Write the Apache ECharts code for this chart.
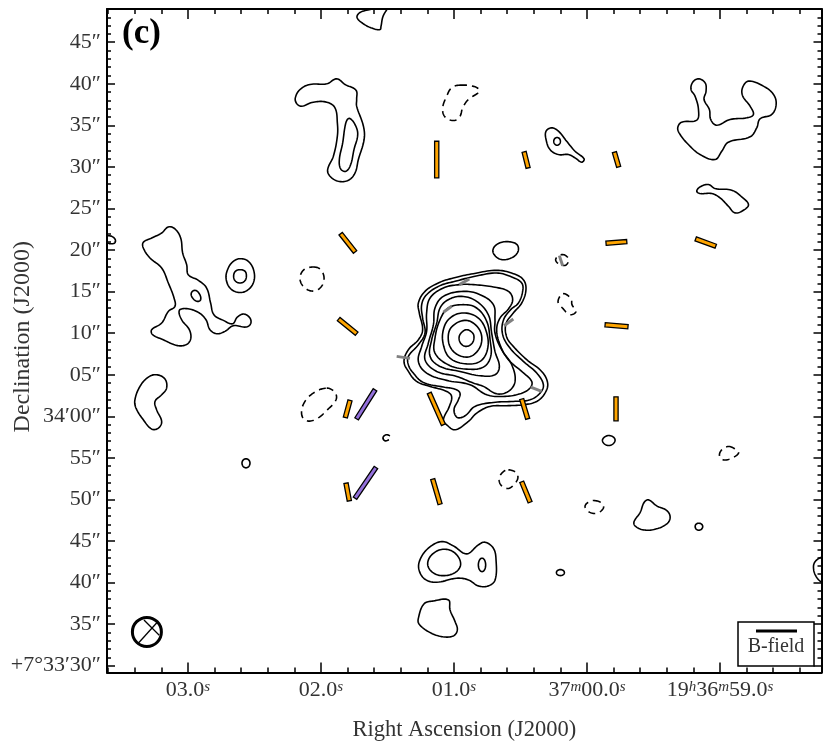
<!DOCTYPE html>
<html>
<head>
<meta charset="utf-8">
<title>Polarization map (c)</title>
<style>
  html, body { margin: 0; padding: 0; background: #fff; }
  #chart { width: 831px; height: 751px; }
</style>
<script src="https://cdn.jsdelivr.net/npm/echarts@6/dist/echarts.min.js"></script>
</head>
<body>
<div id="chart"></div>
<script>
// x = RA seconds relative to 19h37m00s, y = Dec arcsec relative to +7d33m00s
const raMajor = [3, 2, 1, 0, -1]
const raMinor = [3.6, 3.4, 3.2, 3, 2.8, 2.6, 2.4, 2.2, 2, 1.8, 1.6, 1.4, 1.2, 1, 0.8, 0.6, 0.4, 0.2, 0, -0.2, -0.4, -0.6, -0.8, -1, -1.2, -1.4, -1.6]
const raLabels = ['{n|03.0}{s|s}', '{n|02.0}{s|s}', '{n|01.0}{s|s}', '{n|37}{s|m}{n|00.0}{s|s}', '{n|19}{s|h}{n|36}{s|m}{n|59.0}{s|s}']
const decMajor = [30, 35, 40, 45, 50, 55, 60, 65, 70, 75, 80, 85, 90, 95, 100, 105]
const decLabels = ['+7°33′30″', '35″', '40″', '45″', '50″', '55″', '34′00″', '05″', '10″', '15″', '20″', '25″', '30″', '35″', '40″', '45″']
const decMinor = []
for (let i = 30; i <= 109; i++) decMinor.push(i)

// main source, outer to inner
const coreA = [[0.679, 77.56], [0.554, 77.16], [0.479, 76.44], [0.459, 75.24], [0.491, 73.63], [0.554, 72.43], [0.609, 71.14], [0.604, 69.54], [0.554, 68.41], [0.453, 66.81], [0.341, 65.4], [0.296, 64], [0.316, 62.79], [0.378, 61.79], [0.479, 61.39], [0.604, 61.27], [0.729, 61.19], [0.829, 60.39], [0.892, 59.38], [0.992, 58.38], [1.055, 58.98], [1.08, 59.58], [1.035, 61.19], [1.018, 62.39], [1.055, 62.99], [1.18, 63.6], [1.281, 64.2], [1.343, 65.4], [1.376, 66.61], [1.343, 68.01], [1.268, 69.21], [1.236, 70.42], [1.261, 72.43], [1.268, 73.63], [1.218, 75.03], [1.118, 76.04], [1.005, 76.64], [0.855, 77.16]]
const coreB = [[0.679, 77.24], [0.566, 76.76], [0.491, 76.04], [0.484, 75.03], [0.516, 73.63], [0.574, 72.83], [0.629, 71.54], [0.634, 69.82], [0.579, 68.21], [0.479, 66.61], [0.378, 65.2], [0.328, 63.8], [0.353, 62.79], [0.428, 61.99], [0.554, 61.79], [0.704, 61.67], [0.842, 61.19], [0.917, 60.06], [0.975, 59.86], [1, 60.79], [0.967, 61.99], [0.955, 62.79], [0.992, 63.27], [1.08, 63.52], [1.231, 64.08], [1.306, 65.2], [1.343, 66.2], [1.343, 67.21], [1.268, 68.61], [1.218, 70.02], [1.236, 71.82], [1.243, 73.43], [1.206, 74.63], [1.105, 75.72], [0.992, 76.24], [0.842, 76.84]]
const coreC = [[0.96, 75.84], [0.855, 75.84], [0.704, 75.56], [0.591, 75.03], [0.559, 74.03], [0.591, 72.91], [0.654, 71.82], [0.679, 70.42], [0.654, 68.61], [0.591, 66.81], [0.491, 65.4], [0.416, 64.2], [0.428, 63.4], [0.504, 62.71], [0.629, 62.39], [0.754, 62.59], [0.88, 63.8], [1.055, 64.32], [1.206, 65.2], [1.268, 66.61], [1.243, 68.41], [1.206, 70.22], [1.206, 72.43], [1.18, 74.23], [1.08, 75.44]]
const coreD = [[0.93, 75.03], [0.804, 74.63], [0.704, 73.43], [0.692, 71.62], [0.692, 70.02], [0.642, 68.01], [0.566, 66.2], [0.541, 64.2], [0.591, 63], [0.679, 62.71], [0.779, 63.6], [0.855, 64], [0.98, 64.8], [1.13, 65.4], [1.218, 66.81], [1.193, 68.81], [1.155, 71.02], [1.143, 73.03], [1.08, 74.43]]
const coreE = [[0.942, 74.43], [0.83, 73.83], [0.742, 72.22], [0.717, 70.02], [0.692, 67.81], [0.659, 66], [0.692, 65], [0.804, 64.88], [0.955, 65.4], [1.105, 66], [1.18, 67.21], [1.168, 69.21], [1.13, 71.22], [1.105, 73.03], [1.043, 74.03]]
const coreF = [[0.93, 73.43], [0.83, 73.03], [0.754, 71.42], [0.729, 69.21], [0.724, 67.21], [0.779, 65.92], [0.905, 65.68], [1.043, 66.2], [1.143, 67.61], [1.143, 69.42], [1.105, 71.62], [1.043, 73.03]]
const coreG = [[0.93, 72.43], [0.817, 71.82], [0.754, 70.02], [0.749, 68.01], [0.804, 66.61], [0.917, 66.33], [1.03, 67], [1.08, 68.61], [1.08, 70.42], [1.03, 71.82]]
const coreH = [[0.91, 71.54], [0.817, 70.62], [0.792, 69.01], [0.842, 67.53], [0.917, 67.13], [1.005, 67.81], [1.043, 69.21], [1.018, 70.74]]
const coreI = [[0.905, 70.42], [0.86, 70.02], [0.85, 69.42], [0.867, 68.73], [0.91, 68.41], [0.947, 68.73], [0.962, 69.42], [0.947, 70.02]]

// other positive contours
const ovalNorth = [[0.707, 80.05], [0.669, 80.77], [0.594, 81.01], [0.526, 80.65], [0.519, 79.81], [0.564, 79.09], [0.639, 78.85], [0.692, 79.33]]
const hookOuter = [[1.882, 100.6], [1.819, 99.92], [1.737, 99.23], [1.732, 98.11], [1.732, 97.31], [1.681, 94.9], [1.676, 93.3], [1.719, 90.89], [1.744, 89.28], [1.794, 88.4], [1.87, 88.28], [1.932, 88.88], [1.95, 89.68], [1.907, 91.29], [1.877, 93.7], [1.877, 95.3], [1.895, 97.11], [1.957, 97.79], [2.058, 97.79], [2.145, 97.31], [2.183, 97.63], [2.193, 98.31], [2.158, 99.31], [2.083, 99.92], [1.957, 100]]
const hookInner = [[1.782, 95.82], [1.744, 95.1], [1.724, 93.9], [1.752, 92.09], [1.777, 90.29], [1.812, 89.48], [1.852, 89.76], [1.862, 90.89], [1.837, 92.89], [1.819, 94.9], [1.802, 95.7]]
const westBlob = [[3.148, 82.78], [3.098, 82.54], [3.055, 81.45], [3.04, 79.65], [3.01, 78.24], [2.998, 77.04], [2.922, 76.36], [2.86, 75.43], [2.83, 73.63], [2.805, 72.22], [2.734, 71.54], [2.664, 71.14], [2.629, 71.94], [2.579, 72.3], [2.534, 71.82], [2.529, 71.14], [2.564, 70.74], [2.659, 70.9], [2.722, 70.22], [2.785, 69.94], [2.835, 70.42], [2.865, 71.62], [2.922, 72.5], [3.01, 72.95], [3.065, 72.74], [3.048, 71.62], [2.99, 70.42], [2.98, 69.29], [3.015, 68.61], [3.085, 68.53], [3.186, 69.21], [3.266, 69.82], [3.273, 70.42], [3.198, 71.22], [3.148, 72.62], [3.098, 73.23], [3.105, 74.23], [3.148, 76.04], [3.198, 77.84], [3.286, 79.05], [3.336, 80.25], [3.336, 80.93], [3.273, 81.45], [3.198, 82.05]]
const westBlobPeak = [[2.947, 75.15], [2.915, 74.75], [2.905, 74.03], [2.93, 73.83], [2.965, 74.23], [2.975, 74.83]]
const ringOuter = [[2.609, 78.96], [2.546, 78.64], [2.504, 77.44], [2.509, 76.04], [2.559, 75.11], [2.622, 74.91], [2.684, 75.43], [2.714, 76.64], [2.697, 77.84], [2.659, 78.64]]
const ringInner = [[2.609, 77.64], [2.571, 77.44], [2.561, 76.84], [2.574, 76.28], [2.609, 76.04], [2.644, 76.28], [2.657, 76.84], [2.644, 77.44]]
const kidney = [[3.236, 65], [3.173, 64.48], [3.161, 63.39], [3.198, 62.59], [3.248, 61.79], [3.236, 60.79], [3.198, 59.38], [3.223, 58.58], [3.273, 58.46], [3.336, 59.58], [3.391, 60.99], [3.399, 61.99], [3.361, 63.6], [3.298, 64.72]]
const teardrop = [[0.265, 94.7], [0.215, 94.3], [0.153, 93.09], [0.09, 91.89], [0.022, 90.97], [0.04, 90.57], [0.09, 91.09], [0.14, 91.49], [0.215, 91.49], [0.278, 92.09], [0.308, 93.3], [0.308, 94.3]]
const teardropPeak = [[0.225, 93.54], [0.2, 93.09], [0.225, 92.61], [0.25, 93.09]]
const eastBlob = [[-0.838, 100.6], [-0.888, 100.12], [-0.895, 99.12], [-0.88, 98.11], [-0.92, 96.91], [-0.93, 95.71], [-0.975, 95.02], [-1.076, 95.71], [-1.201, 95.91], [-1.251, 96.31], [-1.226, 97.31], [-1.171, 98.52], [-1.169, 99.52], [-1.214, 100.32], [-1.326, 99.72], [-1.402, 98.72], [-1.422, 97.51], [-1.389, 96.31], [-1.301, 95.79], [-1.276, 94.7], [-1.226, 93.62], [-1.063, 92.98], [-1.013, 91.89], [-0.963, 90.89], [-0.85, 91.49], [-0.762, 92.7], [-0.7, 93.9], [-0.682, 94.7], [-0.712, 95.39], [-0.825, 95.63], [-0.838, 96.91], [-0.812, 98.52], [-0.782, 99.32], [-0.795, 100.2]]
const eastSliver = [[-0.913, 87.88], [-0.963, 87.4], [-1.088, 87.2], [-1.163, 86.4], [-1.214, 85.47], [-1.176, 84.79], [-1.113, 84.47], [-1.063, 85.27], [-1, 86.28], [-0.938, 86.8], [-0.85, 86.8], [-0.825, 87.08], [-0.85, 87.6]]
const southOval = [[-0.163, 57.69], [-0.199, 57.49], [-0.211, 57.09], [-0.193, 56.65], [-0.163, 56.49], [-0.133, 56.65], [-0.116, 57.09], [-0.131, 57.49]]
const southEastBlob = [[-0.462, 49.95], [-0.524, 49.23], [-0.6, 48.66], [-0.625, 47.86], [-0.6, 47.06], [-0.512, 46.42], [-0.424, 46.34], [-0.361, 46.82], [-0.354, 47.34], [-0.399, 48.42], [-0.429, 49.63]]
const dotEast = [[-0.84, 47.14], [-0.87, 46.74], [-0.84, 46.3], [-0.813, 46.74]]
const peanutOuter = [[1.093, 44.93], [1.005, 44.41], [0.905, 43.45], [0.817, 44.53], [0.767, 44.85], [0.704, 44.13], [0.684, 42.73], [0.691, 40.32], [0.742, 39.6], [0.817, 39.6], [0.892, 40.32], [0.98, 40.52], [1.13, 40.04], [1.218, 40.4], [1.263, 41.52], [1.256, 42.73], [1.193, 44.13]]
const peanutLeft = [[1.075, 44.01], [0.992, 43.53], [0.95, 42.24], [0.992, 41.2], [1.093, 40.84], [1.168, 41.32], [1.198, 42.32], [1.16, 43.45]]
const peanutRight = [[0.789, 42.93], [0.762, 42.12], [0.789, 41.32], [0.817, 42.12]]
const dotSouth = [[0.2, 41.56], [0.17, 41.2], [0.2, 40.84], [0.23, 41.2]]
const southBlob = [[1.042, 37.91], [1.03, 36.71], [0.992, 35.3], [0.975, 34.3], [1.005, 33.58], [1.093, 33.5], [1.193, 34.1], [1.263, 35.02], [1.268, 35.7], [1.226, 37.43], [1.155, 37.79]]
const dotWest = [[2.564, 54.89], [2.534, 54.37], [2.564, 53.8], [2.594, 54.37]]

// contours cut by the frame
const topEdge = [[1.504, 108.95], [1.534, 108.1], [1.549, 106.9], [1.556, 106.53], [1.609, 106.65], [1.684, 107.25], [1.729, 107.98], [1.707, 108.58], [1.617, 109]]
const leftEdge = [[3.612, 81.73], [3.574, 81.65], [3.547, 81.25], [3.552, 80.85], [3.587, 80.77], [3.612, 80.93]]
const rightEdge = [[-1.758, 43.05], [-1.715, 42.52], [-1.703, 41.72], [-1.723, 40.72], [-1.76, 40.04]]
const hookDot = [[1.481, 57.66], [1.511, 57.78], [1.534, 57.42], [1.519, 57.05], [1.489, 57.18]]

// negative contours
const negNorth = [[0.955, 99.84], [0.842, 99.64], [0.809, 99.11], [0.892, 98.11], [0.935, 97.11], [0.955, 96.1], [1, 95.58], [1.068, 96.02], [1.085, 97.11], [1.055, 98.51], [1.018, 99.52]]
const negWest = [[2.058, 77.96], [2.002, 77.64], [1.977, 76.52], [2.007, 75.43], [2.07, 75.07], [2.133, 75.63], [2.158, 76.64], [2.128, 77.64]]
const negSouthWest = [[1.957, 63.39], [1.895, 62.87], [1.887, 61.99], [1.957, 60.71], [2.032, 59.7], [2.108, 59.46], [2.145, 60.18], [2.128, 61.59], [2.058, 62.79]]
const negEastA = [[0.19, 79.45], [0.148, 79.17], [0.14, 78.65], [0.165, 78.16], [0.215, 78.36], [0.235, 78.93]]
const negEastB = [[0.18, 74.75], [0.12, 74.15], [0.113, 73.43], [0.083, 72.59], [0.128, 72.23], [0.18, 72.95], [0.218, 73.79]]
const negSouthA = [[0.591, 53.56], [0.529, 53.16], [0.524, 52.36], [0.584, 51.35], [0.641, 51.63], [0.661, 52.44], [0.636, 53.24]]
const negSouthB = [[-0.053, 49.87], [-0.111, 49.55], [-0.123, 48.95], [-0.073, 48.34], [-0.01, 48.54], [0.015, 49.15], [-0.01, 49.67]]
const negSouthC = [[-1.063, 56.37], [-1.114, 56.05], [-1.139, 55.57], [-1.088, 54.97], [-1.026, 54.76], [-0.996, 55.25], [-1.013, 55.97]]

// field vectors: ra0, dec0, ra1, dec1
const orangeVectors = [
  [1.852, 81.97, 1.744, 79.77], [1.867, 71.7, 1.732, 69.94], [1.782, 61.91, 1.817, 59.86],
  [1.812, 51.96, 1.787, 49.83], [1.16, 52.44, 1.105, 49.43], [1.186, 62.8, 1.08, 58.98],
  [1.13, 93.09, 1.13, 88.68], [0.473, 91.81, 0.443, 89.88], [-0.206, 91.77, -0.238, 90.01],
  [-0.143, 80.82, -0.299, 81.02], [-0.817, 81.34, -0.968, 80.46], [-0.136, 71.02, -0.308, 70.78],
  [0.491, 62.07, 0.446, 59.7], [-0.218, 62.35, -0.218, 59.46], [0.491, 52.12, 0.428, 49.67]
]
const purpleVectors = [[1.594, 63.19, 1.732, 59.7], [1.587, 53.84, 1.744, 50.15]]
const greyVectors = [
  [1.431, 67.21, 1.331, 66.97], [0.96, 75.84, 0.885, 76.52], [1.08, 72.51, 1.018, 73.23],
  [0.624, 70.9, 0.554, 71.7], [0.423, 63.52, 0.341, 62.99], [0.208, 79.33, 0.183, 78.12]
]

const beamCentre = [[3.309, 34.06]]
const beamHatchA = [[3.374, 32.7], [3.226, 35.32]]
const beamHatchB = [[3.331, 35.5], [3.216, 33.66]]

const solidLoops = [coreA, coreB, coreC, coreD, coreE, coreF, coreG, coreH, coreI, ovalNorth, hookOuter, hookInner, westBlob, westBlobPeak, ringOuter, ringInner, kidney, teardrop, teardropPeak, eastBlob, eastSliver, southOval, southEastBlob, dotEast, peanutOuter, peanutLeft, peanutRight, dotSouth, southBlob, dotWest]
const openLines = [topEdge, leftEdge, rightEdge, hookDot]
const dashedLoops = [negNorth, negWest, negSouthWest, negEastA, negEastB, negSouthA, negSouthB, negSouthC]

const serif = '"Liberation Serif", serif'
const ink = '#333'

// rounded path through screen points, echarts' own smooth clamps control points and goes boxy
const roundThrough = (pts, closed) => {
  const n = pts.length
  const at = i => closed ? pts[(i + n) % n] : pts[Math.max(0, Math.min(n - 1, i))]
  const k = n <= 4 ? 0.55 : (n <= 6 ? 0.42 : 0.38)
  const out = []
  const segments = closed ? n : n - 1
  for (let i = 0; i < segments; i++) {
    const p0 = at(i - 1)
    const p1 = at(i)
    const p2 = at(i + 1)
    const p3 = at(i + 2)
    const d1 = Math.hypot(p2[0] - p1[0], p2[1] - p1[1])
    const d0 = Math.hypot(p1[0] - p0[0], p1[1] - p0[1]) || d1
    const d2 = Math.hypot(p3[0] - p2[0], p3[1] - p2[1]) || d1
    const c1 = [p1[0] + (p2[0] - p0[0]) * k * d1 / (d0 + d1), p1[1] + (p2[1] - p0[1]) * k * d1 / (d0 + d1)]
    const c2 = [p2[0] - (p3[0] - p1[0]) * k * d1 / (d1 + d2), p2[1] - (p3[1] - p1[1]) * k * d1 / (d1 + d2)]
    for (let s = 0; s < 10; s++) {
      const t = s / 10
      const u = 1 - t
      out.push([
        u * u * u * p1[0] + 3 * u * u * t * c1[0] + 3 * u * t * t * c2[0] + t * t * t * p2[0],
        u * u * u * p1[1] + 3 * u * u * t * c1[1] + 3 * u * t * t * c2[1] + t * t * t * p2[1]
      ])
    }
  }
  if (!closed) out.push(pts[n - 1])
  return out
}

const contourSeries = (list, closed, dash) => ({
  type: 'custom',
  data: list.map(pts => pts[0]),
  silent: true,
  clip: true,
  z: 2,
  renderItem (params, api) {
    const pts = list[params.dataIndex].map(p => api.coord(p))
    return {
      type: closed ? 'polygon' : 'polyline',
      shape: { points: roundThrough(pts, closed) },
      style: { fill: null, stroke: '#000', lineWidth: 1.6, lineDash: dash || null }
    }
  }
})

const vectorSeries = (data, fill) => ({
  type: 'custom',
  data,
  silent: true,
  z: 4,
  encode: { x: [0, 2], y: [1, 3] },
  renderItem (params, api) {
    const a = api.coord([api.value(0), api.value(1)])
    const b = api.coord([api.value(2), api.value(3)])
    const len = Math.hypot(b[0] - a[0], b[1] - a[1])
    const nx = -(b[1] - a[1]) / len * 2.1
    const ny = (b[0] - a[0]) / len * 2.1
    return {
      type: 'polygon',
      shape: { points: [[a[0] + nx, a[1] + ny], [b[0] + nx, b[1] + ny], [b[0] - nx, b[1] - ny], [a[0] - nx, a[1] - ny]] },
      style: { fill, stroke: '#000', lineWidth: 1.3 }
    }
  }
})

const greySeries = {
  type: 'custom',
  data: greyVectors,
  silent: true,
  z: 5,
  encode: { x: [0, 2], y: [1, 3] },
  renderItem (params, api) {
    const a = api.coord([api.value(0), api.value(1)])
    const b = api.coord([api.value(2), api.value(3)])
    return {
      type: 'line',
      shape: { x1: a[0], y1: a[1], x2: b[0], y2: b[1] },
      style: { stroke: '#808080', lineWidth: 3 }
    }
  }
}

const beamLine = data => ({
  type: 'line',
  data,
  symbol: 'none',
  silent: true,
  z: 3,
  lineStyle: { color: '#000', width: 1.3 }
})

const xRange = { type: 'value', inverse: true, min: -1.763, max: 3.609, splitLine: { show: false } }
const yRange = { type: 'value', min: 29.18, max: 109, splitLine: { show: false } }
const frame = { show: true, onZero: false, lineStyle: { color: '#000', width: 2 } }
const noLine = { show: false, onZero: false }
const tickSet = (values, length) => ({
  show: true, inside: true, length, customValues: values, lineStyle: { color: '#000', width: 1.5 }
})
const superRich = {
  n: { fontFamily: serif, fontSize: 22, color: ink },
  s: { fontFamily: serif, fontSize: 15, fontStyle: 'italic', color: ink, verticalAlign: 'top', lineHeight: 12 }
}

const chart = echarts.init(document.getElementById('chart'), null, { renderer: 'canvas' })
chart.setOption({
  animation: false,
  backgroundColor: '#fff',
  title: {
    text: '(c)',
    left: 122,
    top: 16,
    padding: 0,
    textStyle: { fontFamily: serif, fontWeight: 'bold', fontSize: 35, color: '#000' }
  },
  grid: { left: 107, top: 9, width: 714.5, height: 663.5, outerBoundsMode: 'none' },
  xAxis: [
    {
      ...xRange,
      position: 'bottom',
      name: 'Right Ascension (J2000)',
      nameLocation: 'middle',
      nameGap: 46,
      nameMoveOverlap: false,
      nameTextStyle: { fontFamily: serif, fontSize: 22.5, color: ink },
      axisLine: frame,
      axisTick: tickSet(raMajor, 10),
      axisLabel: {
        show: true,
        customValues: raMajor,
        margin: 7,
        formatter: (v, i) => raLabels[raMajor.indexOf(v)],
        rich: superRich
      }
    },
    { ...xRange, position: 'bottom', axisLine: noLine, axisTick: tickSet(raMinor, 5), axisLabel: { show: false } },
    { ...xRange, position: 'top', axisLine: frame, axisTick: tickSet(raMajor, 10), axisLabel: { show: false } },
    { ...xRange, position: 'top', axisLine: noLine, axisTick: tickSet(raMinor, 5), axisLabel: { show: false } }
  ],
  yAxis: [
    {
      ...yRange,
      position: 'left',
      name: 'Declination (J2000)',
      nameLocation: 'middle',
      nameGap: 72,
      nameMoveOverlap: false,
      nameTextStyle: { fontFamily: serif, fontSize: 24, color: ink, padding: [0, 0, 0, 8] },
      axisLine: frame,
      axisTick: tickSet(decMajor, 8),
      axisLabel: {
        show: true,
        customValues: decMajor,
        margin: 6,
        fontFamily: serif,
        fontSize: 22,
        color: ink,
        formatter: v => decLabels[decMajor.indexOf(v)]
      }
    },
    { ...yRange, position: 'left', axisLine: noLine, axisTick: tickSet(decMinor, 4), axisLabel: { show: false } },
    { ...yRange, position: 'right', axisLine: frame, axisTick: tickSet(decMajor, 8), axisLabel: { show: false } },
    { ...yRange, position: 'right', axisLine: noLine, axisTick: tickSet(decMinor, 4), axisLabel: { show: false } }
  ],
  series: [
    contourSeries(solidLoops, true),
    contourSeries(openLines, false),
    contourSeries(dashedLoops, true, [7, 5]),
    vectorSeries(orangeVectors, '#FFA500'),
    vectorSeries(purpleVectors, '#9370DB'),
    greySeries,
    beamLine(beamHatchA),
    beamLine(beamHatchB),
    {
      type: 'scatter',
      data: beamCentre,
      symbol: 'circle',
      symbolSize: 29,
      silent: true,
      z: 3,
      itemStyle: { color: 'rgba(0,0,0,0)', borderColor: '#000', borderWidth: 3, opacity: 1 }
    }
  ],
  graphic: [
    { type: 'rect', z: 50, shape: { x: 738, y: 622, width: 76, height: 44 }, style: { fill: '#fff', stroke: '#000', lineWidth: 1.5 } },
    { type: 'line', z: 51, shape: { x1: 756, y1: 631, x2: 797, y2: 631 }, style: { stroke: '#000', lineWidth: 3 } },
    { type: 'text', z: 51, x: 776, y: 647, style: { text: 'B-field', font: '20px ' + serif, fill: ink, textAlign: 'center', textVerticalAlign: 'middle' } }
  ]
})
</script>
</body>
</html>
